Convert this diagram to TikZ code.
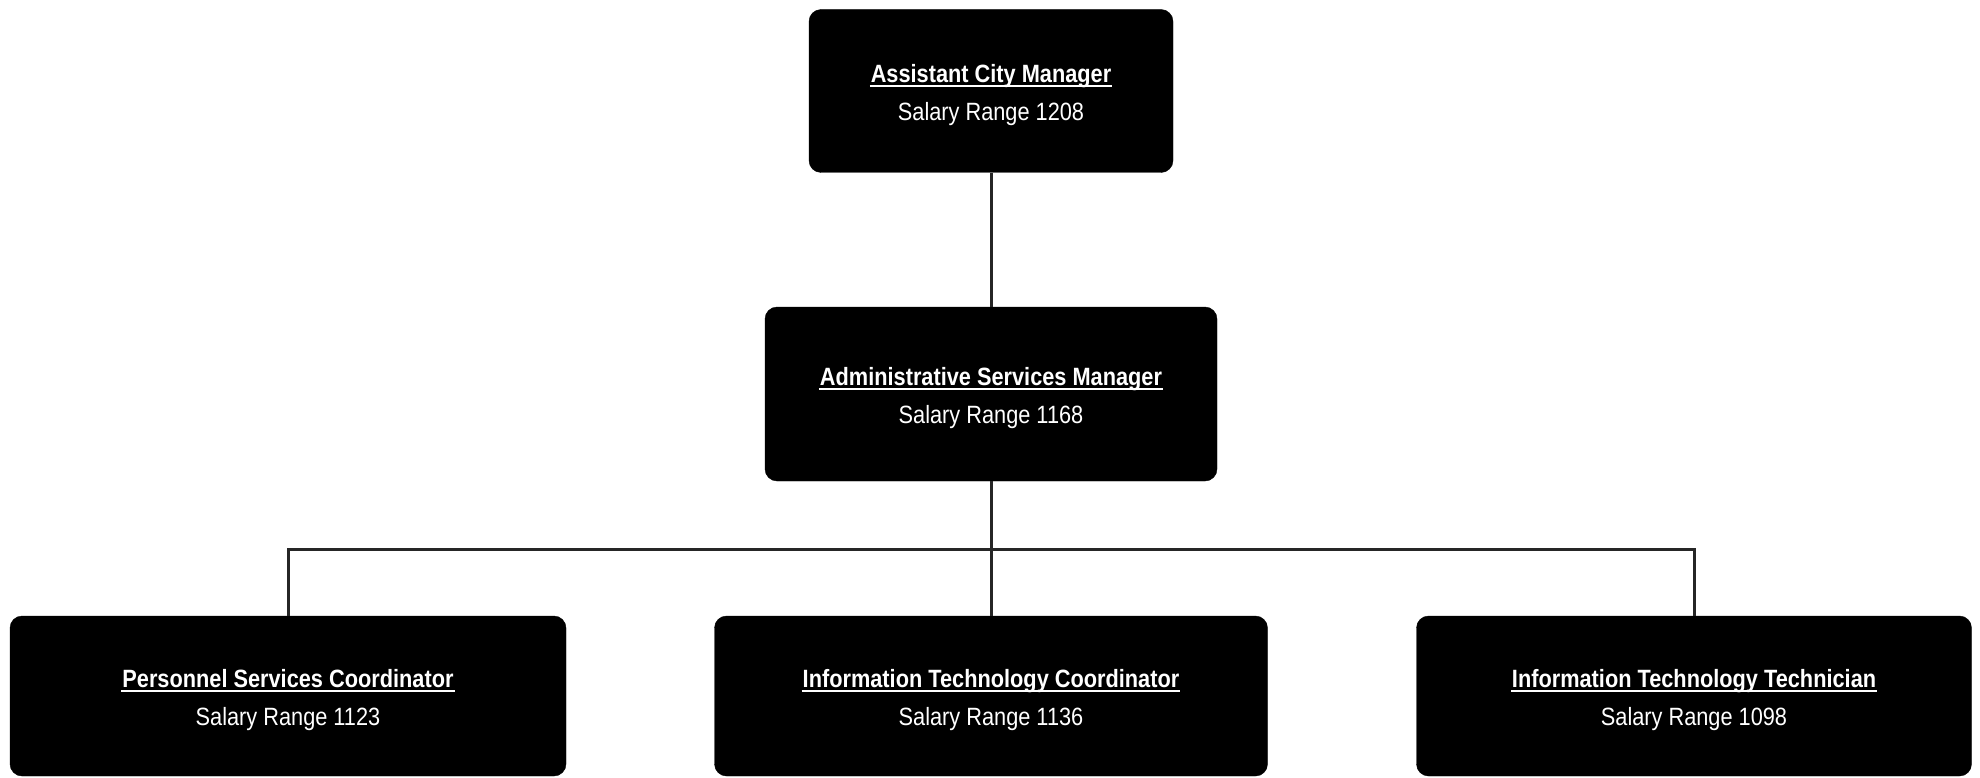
\documentclass[tikz,border=0pt]{standalone}
\usepackage{fontspec}
\setmainfont{Liberation Sans}[FakeStretch=0.87]
\newcommand{\ttl}[1]{\setbox0\hbox{\textbf{#1}}\rlap{\kern-1pt\rule[-4.5pt]{\dimexpr\wd0+2pt\relax}{2pt}}\box0}
\newcommand{\lbl}[2]{\raisebox{-2.5pt}[\height][\depth]{\begin{tabular}{@{}c@{}}\ttl{#1}\\#2\end{tabular}}}
\begin{document}
\begin{tikzpicture}[x=1pt,y=-1pt,
  box/.style={draw=black, fill=black, rounded corners=12pt, text=white,
    font=\fontsize{25}{38}\selectfont, inner sep=0pt},
  link/.style={draw=black!85, line width=3pt}]
\useasboundingbox (0,0) rectangle (1980,778);
\node[box, minimum width=364pt, minimum height=163pt] (acm) at (991,91)
  {\lbl{Assistant City Manager}{Salary Range 1208}};
\node[box, minimum width=452pt, minimum height=174pt] (asm) at (991,394)
  {\lbl{Administrative Services Manager}{Salary Range 1168}};
\node[box, minimum width=556pt, minimum height=160pt] (psc) at (288,696)
  {\lbl{Personnel Services Coordinator}{Salary Range 1123}};
\node[box, minimum width=553pt, minimum height=160pt] (itc) at (991,696)
  {\lbl{Information Technology Coordinator}{Salary Range 1136}};
\node[box, minimum width=555pt, minimum height=160pt] (itt) at (1694,696)
  {\lbl{Information Technology Technician}{Salary Range 1098}};
\coordinate (junc) at (991,549);
\draw[link] (acm.south) -- (asm.north);
\draw[link] (asm.south) -- (junc);
\draw[link] (junc) -- (itc.north);
\draw[link] (psc.north) |- (junc) -| (itt.north);
\end{tikzpicture}
\end{document}
